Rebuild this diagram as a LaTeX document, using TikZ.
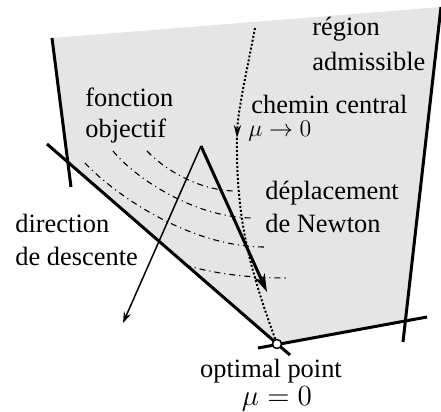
\documentclass[tikz,border=0pt]{standalone}
\usepackage[no-math]{fontspec}
\setmainfont{Liberation Serif}
\usetikzlibrary{arrows.meta}
\begin{document}
\begin{tikzpicture}[x=0.5pt,y=-0.5pt,
  lbl/.style={inner sep=0pt,anchor=base west,font=\fontsize{13.2}{15.8}\selectfont},
  bound/.style={line width=1.5pt},
  level/.style={line width=0.55pt,dash dot},
  pathdots/.style={line width=1pt,dash pattern=on 1pt off 1pt},
]
\useasboundingbox (0,0) rectangle (441,412);
% region
\coordinate (TL) at (52,38);
\coordinate (TR) at (441,7);
\coordinate (RB) at (405,322);
\coordinate (O) at (277,344);
\coordinate (LB) at (67,163);
\fill[gray!20] (TL) -- (TR) -- (RB) -- (O) -- (LB) -- cycle;
% level sets
\draw[level] (147,151) .. controls (165,170) and (200,191) .. (236,191);
\draw[level] (113,151) .. controls (135,178) and (195,218) .. (253,218);
\draw[level] (85,163) .. controls (115,195) and (190,247) .. (265,247);
\draw[level] (185,265) .. controls (215,274) and (250,278) .. (289,278);
% central path
\coordinate (C0) at (255,28);
\coordinate (C1) at (237,138);
\draw[pathdots,-{Stealth[length=6.5pt,width=3.6pt]}] (C0) .. controls (246,75) and (238,110) .. (C1);
\draw[pathdots] (C1) .. controls (236,220) and (250,270) .. (O);
% boundary lines
\coordinate (L1a) at (52,38);
\coordinate (L1b) at (71,187);
\coordinate (D1) at (47,144);
\coordinate (D2) at (290,355);
\coordinate (R1) at (441,7);
\coordinate (R2) at (403,342);
\coordinate (B1) at (258,348);
\coordinate (B2) at (427,317);
\draw[bound] (L1a) -- (L1b);
\draw[bound] (D1) -- (D2);
\draw[bound] (R1) -- (R2);
\draw[bound] (B1) -- (B2);
% arrows
\coordinate (A) at (201,146);
\coordinate (N) at (267,292);
\coordinate (G) at (123,323);
\draw[line width=1.5pt,-{Stealth[length=9pt,width=5.5pt]}] (A) -- (N);
\draw[line width=0.75pt,-{Stealth[length=5.5pt,width=3.8pt]}] (A) -- (G);
% optimal point
\node[circle,draw,fill=white,line width=0.75pt,inner sep=0pt,minimum size=4.5pt] (opt) at (O) {};
% labels
\node[lbl] (reg1) at (312,36) {région};
\node[lbl] (reg2) at (312,70) {admissible};
\node[lbl] (fo1) at (85,107) {fonction};
\node[lbl] (fo2) at (85,138) {objectif};
\node[lbl] (ch1) at (251,113) {chemin central};
\node[lbl] (ch2) at (248,137) {\resizebox{31.5pt}{!}{$\mu\rightarrow0$}};
\node[lbl] (de1) at (265,200) {déplacement};
\node[lbl] (de2) at (265,233) {de Newton};
\node[lbl] (di1) at (15,233) {direction};
\node[lbl] (di2) at (15,266) {de descente};
\node[lbl,anchor=base] (op1) at (271,378) {optimal point};
\node[lbl,anchor=base] (op2) at (277,406) {\resizebox{35pt}{!}{$\mu=0$}};
\end{tikzpicture}
\end{document}
